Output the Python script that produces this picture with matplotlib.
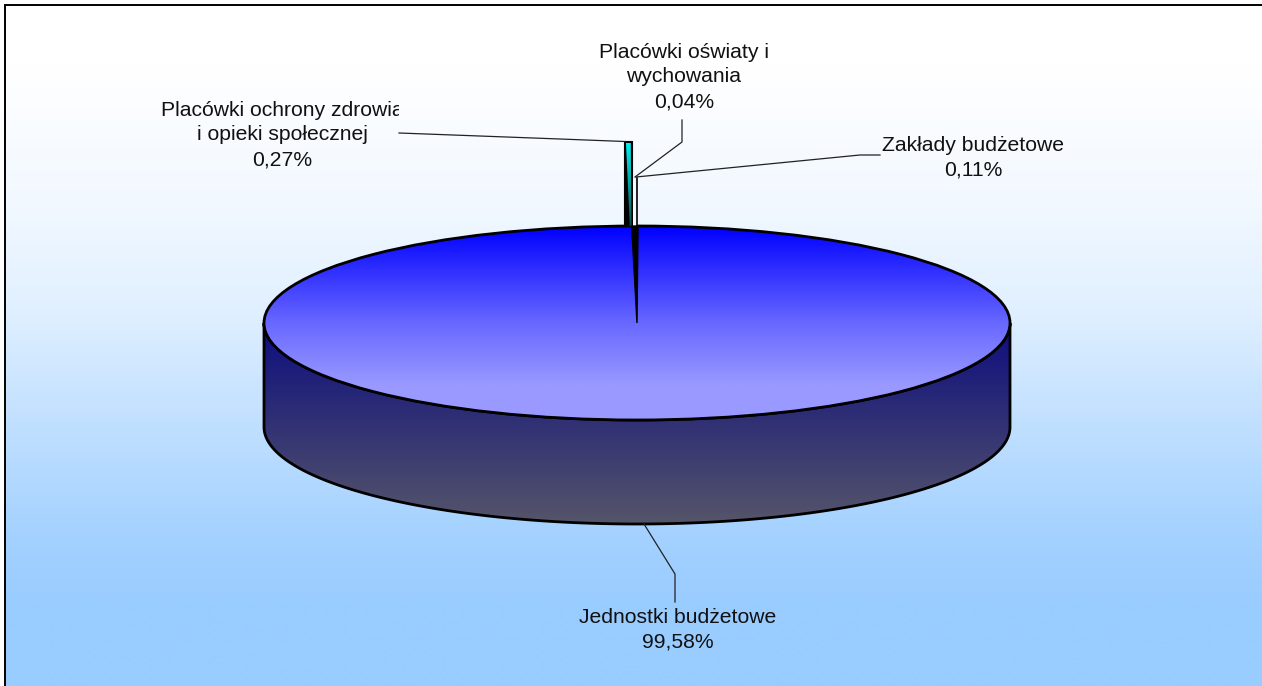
import numpy as np
import matplotlib
matplotlib.use("Agg")
import matplotlib.pyplot as plt
from matplotlib.colors import LinearSegmentedColormap
from matplotlib.patches import Polygon, Rectangle, Ellipse

categories = ["Jednostki budżetowe", "Placówki ochrony zdrowia\ni opieki społecznej",
              "Placówki oświaty i\nwychowania", "Zakłady budżetowe"]
values = [99.58, 0.27, 0.04, 0.11]
label_centers = [(678, 630), (282, 135), (684, 77), (973, 158)]
leaders = [[(644, 524), (675, 574), (675, 602)],
           [(399, 133), (560, 139), (625, 141.5)],
           [(682, 120), (682, 142), (635, 177)],
           [(636, 177), (860, 155), (880, 155)]]

W, H = 1262, 686
plt.rcParams["font.family"] = ["Liberation Sans", "DejaVu Sans"]
fig = plt.figure(figsize=(W / 100, H / 100), dpi=100)
ax = fig.add_axes([0, 0, 1, 1])


def grad(stops, extent, clip=None, z=1):
    cm = LinearSegmentedColormap.from_list("g", stops)
    g = np.linspace(0, 1, 256).reshape(-1, 1)
    im = ax.imshow(g, cmap=cm, extent=extent, aspect="auto", origin="upper",
                   zorder=z, interpolation="bilinear")
    if clip is not None:
        im.set_clip_path(clip)
    return im


# background
bg0, bg1 = np.array([255, 255, 255]) / 255, np.array([153, 204, 255]) / 255
bg_stops = [(p, tuple(bg0 + (bg1 - bg0) * t)) for p, t in
            [(0, 0), (0.09, 0.0), (0.29, 0.13), (0.45, 0.3), (0.58, 0.55),
             (0.77, 0.88), (0.88, 1), (1, 1)]]
grad(bg_stops, (5, W, H, 5), z=0)
ax.plot([5, 5, W], [H, 5, 5], color="black", lw=1.4, zorder=1, solid_joinstyle="miter")

# pie body
cx, cy, rx, ry, depth = 637, 323, 373, 97, 104
t = np.linspace(np.pi, 0, 300)
bx = cx + rx * np.cos(t)
bottom_y = cy + ry * np.sin(t)
side_pts = np.r_[np.c_[bx, bottom_y + depth], np.c_[bx[::-1], bottom_y[::-1]]]
side = Polygon(side_pts, closed=True, fc="none", ec="none")
ax.add_patch(side)
grad([(0, "#0d0d80"), (1, "#55556a")], (cx - rx, cx + rx, cy + ry + depth, cy), clip=side, z=2)
ax.add_patch(Polygon(side_pts, closed=True, fc="none", ec="black", lw=2.0, zorder=3))

top = Ellipse((cx, cy), 2 * rx, 2 * ry, fc="none", ec="none")
ax.add_patch(top)
grad([(0, "#0000ff"), (0.5, "#6868ff"), (0.82, "#9999ff"), (1, "#9999ff")],
     (cx - rx, cx + rx, cy + ry, cy - ry), clip=top, z=4)
ax.add_patch(Ellipse((cx, cy), 2 * rx, 2 * ry, fc="none", ec="black", lw=2.0, zorder=5))

# thin slices, angles from the values (clockwise from 12 o'clock)
ang = np.cumsum([0] + values) / sum(values) * 2 * np.pi
rim = cx + rx * np.sin(ang)
rim_y = cy - ry * np.cos(ang)

# raised walls of the small slices
x0, x1 = rim[1] - 3.2, rim[2] - 1.2
ax.add_patch(Rectangle((x0, 141), x1 - x0, 85, fc="black", ec="black", lw=0.8, zorder=6))
wall = Polygon([(x0 + 2, 143), (x1 - 1.5, 143), (x1 - 0.8, 226), (x1 - 2.5, 226)],
               closed=True, fc="none", ec="none")
ax.add_patch(wall)
grad([(0, "#00f0f0"), (1, "#005050")], (x0, x1, 226, 143), clip=wall, z=7)
ax.add_patch(Rectangle((x1 + 1.0, 178), 3.4, 48, fc="#f4f8ff", ec="none", zorder=6))
ax.plot([rim[4] + 0.0] * 2, [178, 226], color="black", lw=1.2, zorder=7)

# spike: slices seen on the top face
ax.add_patch(Polygon([(cx, cy), (rim[1] + 4.5, rim_y[1]), (rim[4] + 1, rim_y[4])],
                     closed=True, fc="black", ec="black", lw=1.0, zorder=8))

# leaders
for pts in leaders:
    p = np.array(pts)
    ax.plot(p[:, 0], p[:, 1], color="#222222", lw=0.9, zorder=9)

# labels
clips = {1: 399}
for i, (cat, v, (lx, ly)) in enumerate(zip(categories, values, label_centers)):
    s = cat + "\n" + f"{v:.2f}".replace(".", ",") + "%"
    tx = ax.text(lx, ly, s, ha="center", va="center", fontsize=15.2, color="#111111",
                 linespacing=1.37, multialignment="center", zorder=10)
    if i in clips:
        tx.set_clip_on(True)
        tx.set_clip_path(Rectangle((0, 0), clips[i], H, transform=ax.transData))

ax.set_xlim(0, W)
ax.set_ylim(H, 0)
ax.axis("off")
fig.savefig("out.png", dpi=100, facecolor="white")
